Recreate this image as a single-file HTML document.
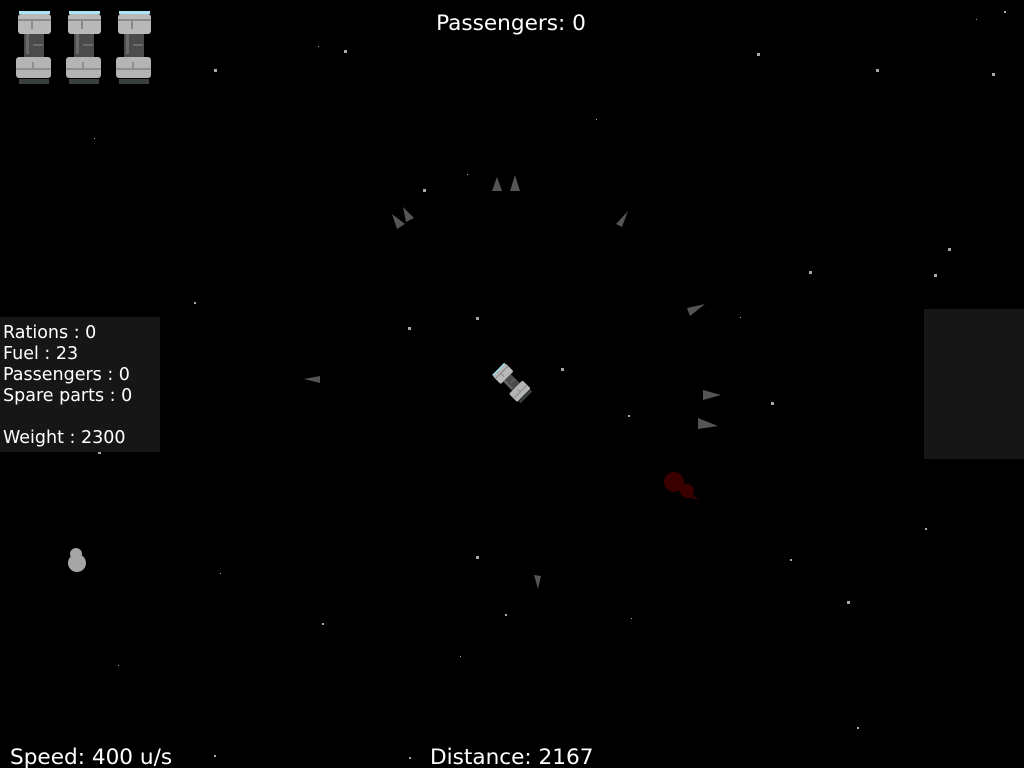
<!DOCTYPE html>
<html><head><meta charset="utf-8"><style>
html,body{margin:0;padding:0;background:#000;width:1024px;height:768px;overflow:hidden}
svg{display:block}
text{font-family:"DejaVu Sans","Liberation Sans",sans-serif;fill:#fff}
</style></head><body>
<svg width="1024" height="768" viewBox="0 0 1024 768">
<rect width="1024" height="768" fill="#000"/>
<defs>
<g id="ship">
  <rect x="19" y="11" width="31" height="3" fill="#a8e4f4"/>
  <rect x="18" y="14" width="33" height="20" rx="3" fill="#b9b9b9"/>
  <rect x="18" y="19" width="33" height="2" fill="#8a8a8a"/>
  <rect x="31" y="21" width="2" height="8" fill="#8a8a8a"/>
  <rect x="24" y="34" width="20" height="23" fill="#4b4b4b"/>
  <rect x="26" y="34" width="3" height="20" fill="#6a6a6a"/>
  <rect x="33" y="44" width="10" height="2" fill="#6a6a6a"/>
  <rect x="16" y="57" width="35" height="21" rx="3" fill="#b4b4b4"/>
  <rect x="16" y="68" width="35" height="2" fill="#8f8f8f"/>
  <rect x="32" y="62" width="2" height="6" fill="#8f8f8f"/>
  <rect x="19" y="79" width="30" height="5" fill="#3a3f3f"/>
</g>
</defs>
<g>
<use href="#ship" x="0"/><use href="#ship" x="50"/><use href="#ship" x="100"/>
</g>
<g fill="#aaa">
<rect x="344" y="50" width="3" height="3"/><rect x="214" y="69" width="3" height="3"/>
<rect x="757" y="53" width="3" height="3"/><rect x="876" y="69" width="3" height="3"/>
<rect x="992" y="73" width="3" height="3"/><rect x="1004" y="11" width="2" height="2"/>
<rect x="423" y="189" width="3" height="3"/><rect x="948" y="248" width="3" height="3"/>
<rect x="809" y="271" width="3" height="3"/><rect x="934" y="274" width="3" height="3"/>
<rect x="476" y="317" width="3" height="3"/><rect x="408" y="327" width="3" height="3"/>
<rect x="561" y="368" width="3" height="3"/><rect x="771" y="402" width="3" height="3"/>
<rect x="115" y="357" width="3" height="3"/><rect x="98" y="451" width="3" height="3"/>
<rect x="476" y="556" width="3" height="3"/><rect x="847" y="601" width="3" height="3"/>
<rect x="790" y="559" width="2" height="2"/><rect x="322" y="623" width="2" height="2"/>
<rect x="857" y="727" width="2" height="2"/><rect x="194" y="302" width="2" height="2"/>
<rect x="628" y="415" width="2" height="2"/><rect x="505" y="614" width="2" height="2"/>
<rect x="1015" y="331" width="2" height="2"/><rect x="925" y="528" width="2" height="2"/>
<rect x="214" y="755" width="2" height="2"/><rect x="409" y="757" width="2" height="2"/>
<rect x="94" y="138" width="1" height="1"/><rect x="596" y="119" width="1" height="1"/>
<rect x="220" y="573" width="1" height="1"/><rect x="118" y="665" width="1" height="1"/>
<rect x="460" y="656" width="1" height="1"/><rect x="631" y="618" width="1" height="1"/>
<rect x="740" y="317" width="1" height="1"/><rect x="976" y="19" width="1" height="1"/>
<rect x="318" y="46" width="1" height="1"/><rect x="467" y="174" width="1" height="1"/>
</g>
<text x="511" y="30" font-size="21.6" text-anchor="middle">Passengers: 0</text>
<g>
<rect x="0" y="317" width="160" height="135" fill="#161616"/>
<text x="3" y="338" font-size="17.5">Rations : 0</text>
<text x="3" y="359" font-size="17.5">Fuel : 23</text>
<text x="3" y="380" font-size="17.5">Passengers : 0</text>
<text x="3" y="401" font-size="17.5">Spare parts : 0</text>
<text x="3" y="443" font-size="17.5">Weight : 2300</text>
</g>
<rect x="924" y="309" width="100" height="150" fill="#161616"/>
<g transform="translate(512,383) rotate(-45) scale(0.55) translate(-34,-47)"><use href="#ship"/></g>
<g fill="#555">
<polygon points="497,177 492,191 502,191"/><polygon points="515,175 510,191 520,191"/>
<polygon points="392,214 397,229 405,224"/><polygon points="403,207 406,222 414,218"/>
<polygon points="628,211 616,224 622,227"/><polygon points="705,304 687,308 690,316"/>
<polygon points="721,395 703,390 703,400"/><polygon points="718,426 698,418 698,429"/>
<polygon points="320,376 304,379 320,383"/><polygon points="534,575 541,576 538,589"/>
</g>
<g fill="#3a0000">
<circle cx="674" cy="482" r="10"/><circle cx="687" cy="491" r="7"/><polygon points="690,494 700,500 686,497"/>
</g>
<g fill="#a5a5a5">
<circle cx="77" cy="563" r="9"/><circle cx="76" cy="554" r="6"/>
</g>
<text x="10" y="764" font-size="21.6">Speed: 400 u/s</text>
<text x="430" y="764" font-size="21.6">Distance: 2167</text>
</svg>
</body></html>
